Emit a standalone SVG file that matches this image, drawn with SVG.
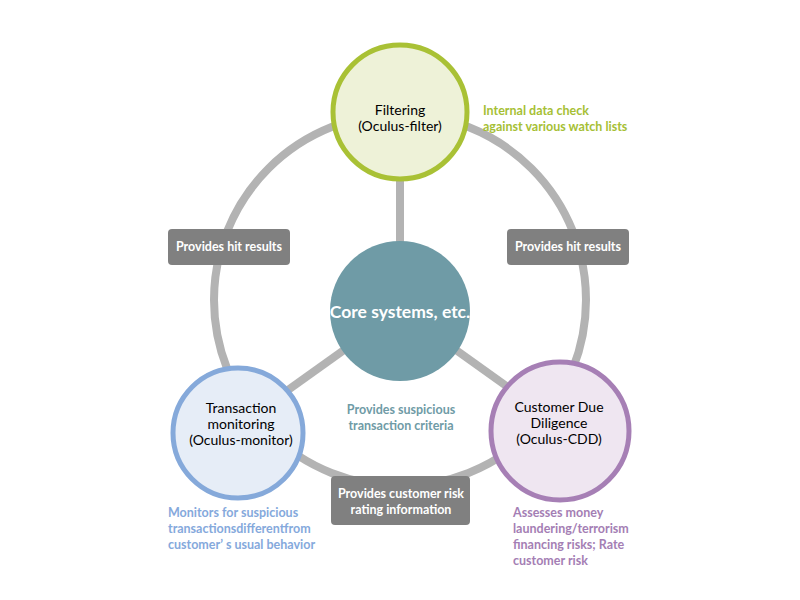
<svg xmlns="http://www.w3.org/2000/svg" width="800" height="600" viewBox="0 0 800 600">
<style>
.line{stroke:#b3b3b3;stroke-width:8;fill:none}
.box{fill:#808080}
.bt{font-family:Lato,"Liberation Sans",sans-serif;font-size:12.5px;font-weight:bold;fill:#fff;text-anchor:middle}
.nt{font-family:Lato,"Liberation Sans",sans-serif;font-size:14px;fill:#000;text-anchor:middle}
.note{font-family:Lato,"Liberation Sans",sans-serif;font-size:12.5px;font-weight:bold}
</style>
<rect width="800" height="600" fill="#fff"/>
<g id="connectors">
<circle class="line" cx="400" cy="300" r="186"/>
<line class="line" x1="400" y1="150" x2="400" y2="250"/>
<line class="line" x1="400" y1="310" x2="260" y2="410"/>
<line class="line" x1="400" y1="310" x2="540" y2="410"/>
</g>
<g id="core">
<circle cx="400" cy="311" r="70" fill="#6f9ba6"/>
<text x="400" y="318" class="bt" style="font-size:17.5px">Core systems, etc.</text>
</g>
<g id="filtering">
<circle cx="400" cy="112" r="67" fill="#eef2d8" stroke="#a9c135" stroke-width="5"/>
<text class="nt" x="400" y="115">Filtering</text>
<text class="nt" x="400" y="131">(Oculus-filter)</text>
</g>
<g id="monitor">
<circle cx="238" cy="433" r="65" fill="#e6edf7" stroke="#85a9da" stroke-width="5"/>
<text class="nt" x="241" y="413">Transaction</text>
<text class="nt" x="241" y="429">monitoring</text>
<text class="nt" x="241" y="445">(Oculus-monitor)</text>
</g>
<g id="cdd">
<circle cx="560" cy="431" r="69" fill="#efe6f1" stroke="#a67fb5" stroke-width="5"/>
<text class="nt" x="559" y="412">Customer Due</text>
<text class="nt" x="559" y="428">Diligence</text>
<text class="nt" x="559" y="444">(Oculus-CDD)</text>
</g>
<g id="label-left">
<rect class="box" x="168" y="229" width="122" height="36" rx="4"/>
<text class="bt" x="229" y="251">Provides hit results</text>
</g>
<g id="label-right">
<rect class="box" x="507" y="229" width="122" height="36" rx="4"/>
<text class="bt" x="568" y="251">Provides hit results</text>
</g>
<g id="label-bottom">
<rect class="box" x="331" y="476" width="139" height="49" rx="4"/>
<text class="bt" x="401" y="498">Provides customer risk</text>
<text class="bt" x="401" y="514">rating information</text>
</g>
<g id="notes">
<text class="note" fill="#a6bf35" x="483" y="115">Internal data check</text>
<text class="note" fill="#a6bf35" x="483" y="131">against various watch lists</text>
<text class="note" fill="#6f9ba6" x="401" y="414" text-anchor="middle">Provides suspicious</text>
<text class="note" fill="#6f9ba6" x="401" y="430" text-anchor="middle">transaction criteria</text>
<text class="note" fill="#85a9dc" x="168" y="517">Monitors for suspicious</text>
<text class="note" fill="#85a9dc" x="168" y="533">transactionsdifferentfrom</text>
<text class="note" fill="#85a9dc" x="168" y="549">customer’ s usual behavior</text>
<text class="note" fill="#a47eb4" x="513" y="517">Assesses money</text>
<text class="note" fill="#a47eb4" x="513" y="533">laundering/terrorism</text>
<text class="note" fill="#a47eb4" x="513" y="549">financing risks; Rate</text>
<text class="note" fill="#a47eb4" x="513" y="565">customer risk</text>
</g>
</svg>
